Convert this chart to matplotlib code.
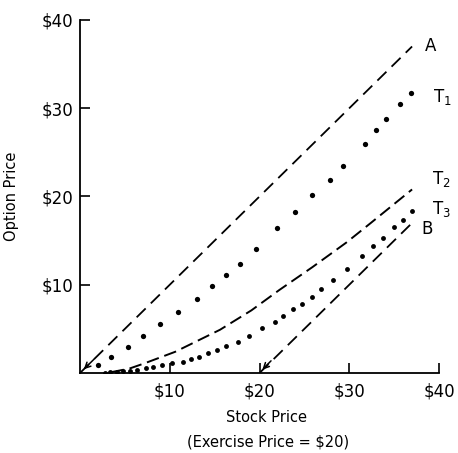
"""Option price vs stock price: bounds A/B and value curves T1, T2, T3."""

import matplotlib
matplotlib.use("Agg")
import matplotlib.pyplot as plt

plt.rcParams["mathtext.default"] = "regular"
plt.rcParams["font.family"] = ["DejaVu Sans"]

# --- data -------------------------------------------------------------
upper_x = [0, 37]          # line A: option price = stock price
upper_y = [0, 37]
lower_x = [20, 37]         # line B: stock price - exercise price
lower_y = [0, 17]

t1_x = [2.0, 3.4, 5.3, 7.0, 8.9, 10.9, 13.0, 14.7, 16.3, 17.8, 19.6,
        22.0, 23.9, 25.9, 27.8, 29.3, 31.7, 33.0, 34.1, 35.7, 36.9]
t1_y = [0.9, 1.8, 3.0, 4.2, 5.5, 6.9, 8.4, 9.9, 11.1, 12.4, 14.0,
        16.4, 18.2, 20.2, 21.9, 23.4, 25.9, 27.5, 28.8, 30.5, 31.7]

t2_x = [3.5, 5.5, 7.2, 10.6, 13.0, 15.6, 19.1, 22.2, 25.9, 29.7, 32.4, 37.0]
t2_y = [0.1, 0.5, 1.1, 2.4, 3.6, 4.9, 7.1, 9.4, 12.0, 14.8, 17.0, 20.8]

t3_x = [2.8, 3.3, 4.1, 4.8, 5.6, 6.3, 7.4, 8.1, 9.1, 10.2, 11.5, 12.4,
        13.3, 14.3, 15.3, 16.3, 17.6, 18.8, 20.3, 21.7, 22.6, 23.7, 24.7,
        25.9, 26.9, 28.2, 29.7, 31.4, 32.7, 33.8, 35.0, 36.0, 37.0]
t3_y = [0.05, 0.1, 0.15, 0.2, 0.25, 0.35, 0.6, 0.7, 0.85, 1.1, 1.3, 1.6,
        1.8, 2.3, 2.6, 3.1, 3.5, 4.2, 5.1, 5.8, 6.5, 7.2, 7.8,
        8.6, 9.5, 10.5, 11.8, 13.3, 14.4, 15.3, 16.5, 17.3, 18.4]

ticks = [10, 20, 30, 40]
tick_labels = ["\\$10", "\\$20", "\\$30", "\\$40"]
# ----------------------------------------------------------------------

fig = plt.figure(figsize=(4.58, 4.53), dpi=100)
ax = fig.add_axes([80 / 458, 80 / 453, 359 / 458, 353 / 453])

dash = dict(color="black", lw=1.3, linestyle=(0, (7, 4)))
ax.plot(upper_x, upper_y, **dash)
ax.plot(lower_x, lower_y, **dash)
ax.plot(t2_x, t2_y, color="black", lw=1.4, linestyle=(0, (6.5, 3)))
ax.plot(t1_x, t1_y, "o", color="black", ms=3.8, mec="none")
ax.plot(t3_x, t3_y, "o", color="black", ms=3.5, mec="none")

# little arrowheads where A and B meet the axis
ax.annotate("", xy=(0.2, 0.2), xytext=(1.8, 1.8),
            arrowprops=dict(arrowstyle="->", lw=1.1, color="black"))
ax.annotate("", xy=(20.1, 0.15), xytext=(21.5, 1.6),
            arrowprops=dict(arrowstyle="->", lw=1.1, color="black"))

lab = dict(fontsize=12, va="center", ha="left")
ax.text(38.4, 37.1, "A", **lab)
ax.text(39.3, 31.3, "T$_1$", **lab)
ax.text(39.2, 22.0, "T$_2$", **lab)
ax.text(39.2, 18.6, "T$_3$", **lab)
ax.text(38.0, 16.3, "B", **lab)

ax.set_xlim(0, 40)
ax.set_ylim(0, 40)
ax.set_xticks(ticks)
ax.set_xticklabels(tick_labels)
ax.set_yticks(ticks)
ax.set_yticklabels(tick_labels)
ax.tick_params(direction="in", length=7, width=1.2, labelsize=12)
ax.tick_params(axis="x", pad=7)
ax.tick_params(axis="y", pad=5)
for side in ("top", "right"):
    ax.spines[side].set_visible(False)
for side in ("left", "bottom"):
    ax.spines[side].set_linewidth(1.3)

ax.set_ylabel("Option Price", fontsize=10.5, labelpad=16)
fig.text(266 / 458, 1 - 417 / 453, "Stock Price", fontsize=10.5,
         ha="center", va="center")
fig.text(268 / 458, 1 - 442 / 453, "(Exercise Price = \\$20)", fontsize=10.5,
         ha="center", va="center")

fig.savefig("out.png", dpi=100)
